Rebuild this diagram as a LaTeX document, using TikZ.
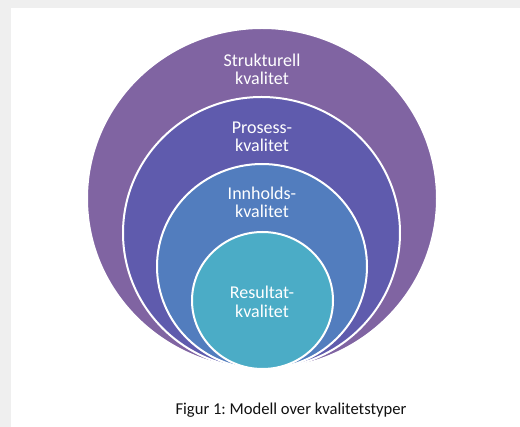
\documentclass[tikz,border=0pt]{standalone}
\usepackage{fontspec}
\setmainfont{Carlito}
\frenchspacing
\definecolor{cStruk}{HTML}{8064A2}
\definecolor{cPros}{HTML}{5F5BAD}
\definecolor{cInnh}{HTML}{527DBE}
\definecolor{cRes}{HTML}{4BACC6}
\definecolor{pagegray}{HTML}{EFEFEF}
\definecolor{captxt}{HTML}{111111}
\tikzset{
  ring/.style={draw=white, line width=2pt},
  ringlabel/.style={text=white, align=center, font=\fontsize{18}{18.6}\selectfont, inner sep=0pt},
  captionstyle/.style={text=captxt, font=\fontsize{16.6}{20}\selectfont, inner sep=0pt, anchor=base}
}
\begin{document}
\begin{tikzpicture}[x=1pt,y=-1pt]
\useasboundingbox (0,0) rectangle (520,427);
% page background
\fill[pagegray] (0,0) rectangle (520,427);
\fill[white] (11,8) rectangle (520,427);
% nested circles
\filldraw[ring, fill=cStruk] (262,198.5) ellipse [x radius=175, y radius=170.5];
\filldraw[ring, fill=cPros] (261.5,233) ellipse [x radius=138.5, y radius=136];
\filldraw[ring, fill=cInnh] (262,266.5) ellipse [x radius=105, y radius=102.5];
\filldraw[ring, fill=cRes] (262.5,300.5) ellipse [x radius=70.5, y radius=68.5];
% labels
\node[ringlabel] (struk) at (262,69.5) {Strukturell\\kvalitet};
\node[ringlabel] (pros) at (262,136.7) {Prosess-\\kvalitet};
\node[ringlabel] (innh) at (262,202.5) {Innholds-\\kvalitet};
\node[ringlabel] (res) at (262,301.7) {Resultat-\\kvalitet};
% caption
\node[captionstyle] (cap) at (291,415) {Figur 1: Modell over kvalitetstyper};
\end{tikzpicture}
\end{document}
